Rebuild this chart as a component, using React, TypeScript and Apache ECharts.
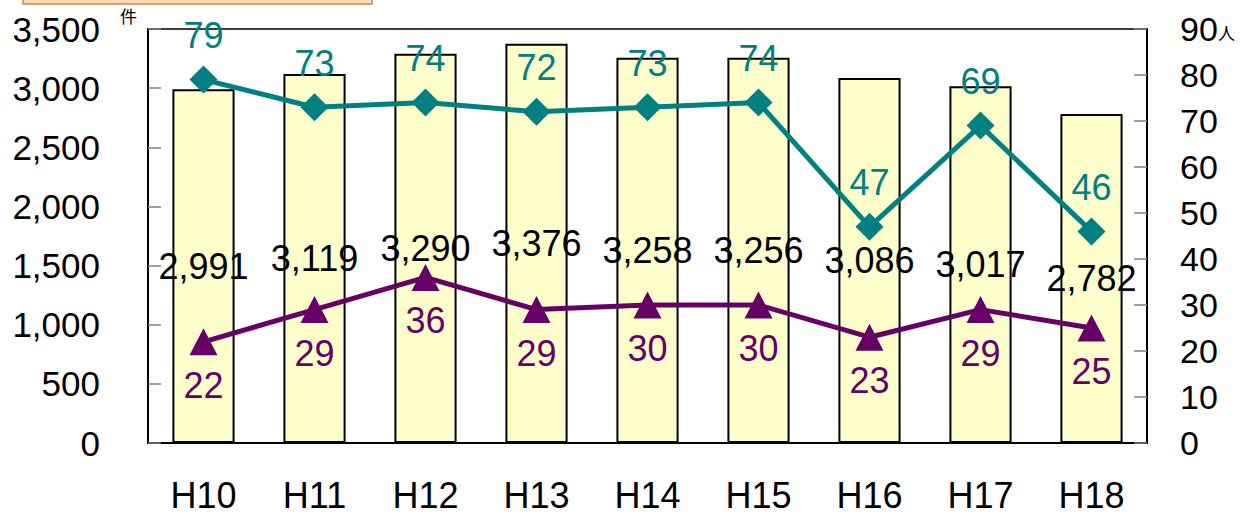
import React, { useEffect, useRef } from "react";
import * as echarts from "echarts";

// 年度別の件数（棒）と人数（折れ線2系列）
const categories = ["H10", "H11", "H12", "H13", "H14", "H15", "H16", "H17", "H18"];
const caseCounts = [2991, 3119, 3290, 3376, 3258, 3256, 3086, 3017, 2782];
const tealPeople = [79, 73, 74, 72, 73, 74, 47, 69, 46];
const purplePeople = [22, 29, 36, 29, 30, 30, 23, 29, 25];

const FONT = "'Liberation Sans', Arial, sans-serif";

export default function App() {
  const ref = useRef<HTMLDivElement>(null);

  useEffect(() => {
    if (!ref.current) return;
    const chart = echarts.init(ref.current, undefined, { renderer: "svg" });
    chart.setOption({
      animation: false,
      backgroundColor: "#ffffff",
      textStyle: { fontFamily: FONT },
      grid: {
        left: 148,
        right: 101,
        top: 29,
        bottom: 74,
        show: true,
        borderColor: "#000000",
        borderWidth: 1.5,
      },
      graphic: [
        {
          type: "rect",
          shape: { x: 23, y: -10, width: 349, height: 14 },
          style: { fill: "#FCD9B2", stroke: "#C88A50", lineWidth: 1.5 },
        },
        {
          type: "text",
          left: 120,
          top: 7,
          style: { text: "件", font: `17px 'Noto Sans CJK JP', sans-serif`, fill: "#000" },
        },
        {
          type: "text",
          left: 1218,
          top: 24,
          style: { text: "人", font: `17px 'Noto Sans CJK JP', sans-serif`, fill: "#000" },
        },
      ],
      xAxis: {
        type: "category",
        data: categories,
        axisLine: { lineStyle: { color: "#000", width: 2 } },
        axisTick: { inside: true, length: 13, lineStyle: { color: "#000", width: 1.5 } },
        axisLabel: { color: "#000", fontSize: 36, lineHeight: 36, fontFamily: FONT, margin: 34 },
      },
      yAxis: [
        {
          type: "value",
          min: 0,
          max: 3500,
          interval: 500,
          splitLine: { show: false },
          axisLine: { show: true, lineStyle: { color: "#000", width: 2 } },
          axisTick: { show: true, inside: true, length: 13, lineStyle: { color: "#808080", width: 1.5 } },
          axisLabel: {
            color: "#000",
            fontSize: 35,
            fontFamily: FONT,
            margin: 48,
            formatter: (v: number) => v.toLocaleString("en-US"),
          },
        },
        {
          type: "value",
          min: 0,
          max: 90,
          interval: 10,
          position: "right",
          splitLine: { show: false },
          axisLine: { show: true, lineStyle: { color: "#000", width: 2 } },
          axisTick: { show: true, inside: true, length: 13, lineStyle: { color: "#808080", width: 1.5 } },
          axisLabel: { color: "#000", fontSize: 34, fontFamily: FONT, margin: 33 },
        },
      ],
      series: [
        {
          type: "bar",
          data: caseCounts,
          barCategoryGap: "44%",
          itemStyle: { color: "#FFFFCC", borderColor: "#000", borderWidth: 2 },
          label: {
            show: true,
            position: "inside",
            color: "#000",
            fontSize: 36,
            fontFamily: FONT,
            formatter: (p: any) => Number(p.value).toLocaleString("en-US"),
          },
          z: 1,
        },
        {
          type: "line",
          yAxisIndex: 1,
          data: tealPeople,
          symbol: "diamond",
          symbolSize: 28,
          lineStyle: { color: "#008080", width: 5 },
          itemStyle: { color: "#008080" },
          label: {
            show: true,
            position: "top",
            distance: 12,
            color: "#008080",
            fontSize: 36,
            fontFamily: FONT,
          },
          z: 3,
        },
        {
          type: "line",
          yAxisIndex: 1,
          data: purplePeople,
          symbol: "triangle",
          symbolSize: [28, 27],
          lineStyle: { color: "#660066", width: 5 },
          itemStyle: { color: "#660066" },
          label: {
            show: true,
            position: "bottom",
            distance: 12,
            color: "#660066",
            fontSize: 36,
            fontFamily: FONT,
          },
          z: 3,
        },
      ],
    });
    return () => chart.dispose();
  }, []);

  return <div ref={ref} style={{ width: 1248, height: 517, position: "fixed", left: 0, top: 0 }} />;
}
